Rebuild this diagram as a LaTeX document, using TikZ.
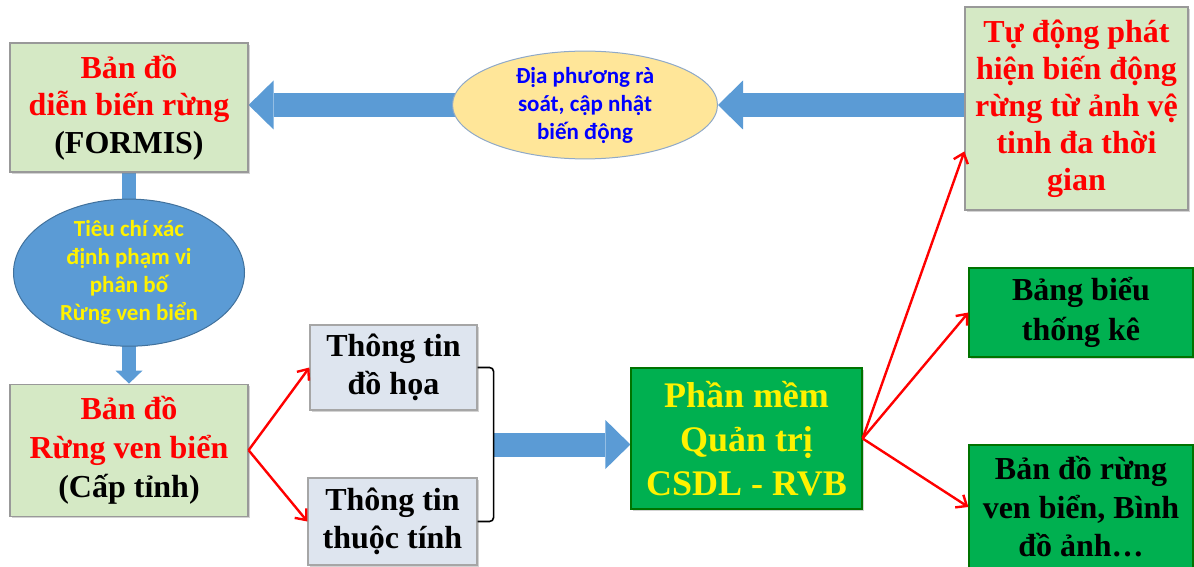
\documentclass[tikz,border=0pt]{standalone}
\usepackage{fontspec}
\setmainfont{Liberation Serif}
\newfontfamily\calibri{Carlito}
\usepackage{xcolor}
\usetikzlibrary{shapes.geometric, arrows.meta, positioning, backgrounds, calc, shadows}

\definecolor{palegreen}{RGB}{213,233,197}
\definecolor{softgreen}{RGB}{0,176,80}
\definecolor{greyblue}{RGB}{222,229,239}
\definecolor{fatblue}{RGB}{91,155,213}
\definecolor{ovaledge}{RGB}{65,113,156}
\definecolor{paleyellow}{RGB}{255,230,153}
\definecolor{yellowedge}{RGB}{143,169,200}

\tikzstyle{mapbox}  = [rectangle, draw=black!40, line width=1.2pt, fill=palegreen,
                       align=center, text=red, inner sep=0pt,
                       font=\bfseries\fontsize{32}{37.5}\selectfont,
                       drop shadow={shadow xshift=2pt, shadow yshift=-2pt, opacity=0.35}]
\tikzstyle{infobox} = [rectangle, draw=black!35, line width=1.2pt, fill=greyblue,
                       align=center, inner sep=0pt,
                       font=\bfseries\fontsize{32}{38}\selectfont,
                       drop shadow={shadow xshift=2pt, shadow yshift=-2pt, opacity=0.35}]
\tikzstyle{outbox}  = [rectangle, draw=green!45!black, line width=1.2pt, fill=softgreen,
                       align=center, inner sep=0pt,
                       font=\bfseries\fontsize{32}{38.5}\selectfont,
                       drop shadow={shadow xshift=2pt, shadow yshift=-2pt, opacity=0.35}]
\tikzstyle{oval}    = [ellipse, line width=1pt, align=center, inner sep=0pt,
                       font=\calibri\bfseries\fontsize{23}{28}\selectfont]
\tikzstyle{fatarrow} = [draw=fatblue, line width=24pt,
                        -{Triangle[length=25pt, width=49pt, line width=0pt]}]
\tikzstyle{redarrow} = [draw=red, line width=2.4pt, -{Straight Barb[length=9pt, width=15pt]}]
\tikzstyle{bracket}  = [draw=black, line width=1.6pt, rounded corners=4pt]

\begin{document}
\begin{tikzpicture}[x=1pt, y=-1pt]
    \useasboundingbox (0,0) rectangle (1194,567);

    % left column
    \node (formis) [mapbox, minimum width=238pt, minimum height=129pt] at (129,107.5)
          {Bản đồ\\diễn biến rừng\\\textcolor{black}{(FORMIS)}};
    \node (tieuchi) [oval, fill=fatblue, draw=ovaledge, text=yellow,
                     minimum width=231pt, minimum height=142pt, below=26pt of formis]
          {Tiêu chí xác\\định phạm vi\\phân bố\\Rừng ven biển};
    \node (rung) [mapbox, minimum width=238pt, minimum height=132pt, below=211pt of formis,
                  font=\bfseries\fontsize{32}{39}\selectfont]
          {Bản đồ\\Rừng ven biển\\\textcolor{black}{(Cấp tỉnh)}};

    % top row
    \node (dpu) [oval, fill=paleyellow, draw=yellowedge, text=blue,
                 minimum width=265pt, minimum height=92pt] at (585,105)
          {Địa phương rà\\soát, cập nhật\\biến động};
    \node (tudong) [mapbox, minimum width=223pt, minimum height=203pt,
                    font=\bfseries\fontsize{32}{37}\selectfont] at (1076.5,108.5)
          {Tự động phát\\hiện biến động\\rừng từ ảnh vệ\\tinh đa thời\\gian};

    % attribute boxes
    \node (dohoa) [infobox, minimum width=167pt, minimum height=85pt] at (393.5,367.5)
          {Thông tin\\đồ họa};
    \node (thuoc) [infobox, minimum width=169pt, minimum height=87pt] at (392.5,521.5)
          {Thông tin\\thuộc tính};

    % software and outputs
    \node (phanmem) [outbox, text=yellow, minimum width=231pt, minimum height=141pt,
                     font=\bfseries\fontsize{36}{44}\selectfont] at (746.5,438.5)
          {Phần mềm\\Quản trị\\CSDL - RVB};
    \node (bangbieu) [outbox, minimum width=224pt, minimum height=89pt, font=\bfseries\fontsize{32}{40}\selectfont] at (1081,312.5)
          {Bảng biểu\\thống kê};
    \node (bando) [outbox, minimum width=224pt, minimum height=124pt] at (1081,507)
          {Bản đồ rừng\\ven biển, Bình\\đồ ảnh…};

    \draw [bracket] (dohoa.east) -- ++(16,0) |- (thuoc.east);
    \coordinate (brmid) at ($(dohoa.east)!0.5!(thuoc.east) + (16,0)$);
    \coordinate (tdin) at ($(tudong.south west)!0.29!(tudong.north west)$);

    \begin{scope}[on background layer]
        \draw [fatarrow] (dpu.center) -- (dpu.west -| formis.east);
        \draw [fatarrow] (dpu.east -| tudong.center) -- (dpu.east);
        \draw [fatarrow, line width=14pt, -{Triangle[length=13pt, width=27pt, line width=0pt]}]
              (formis.center) -- (rung.north);
        \draw [fatarrow] (brmid) -- (brmid -| phanmem.west);
    \end{scope}

    \draw [redarrow] (rung.east) -- (dohoa.west);
    \draw [redarrow] (rung.east) -- (thuoc.west);
    \draw [redarrow] (phanmem.east) -- (tdin);
    \draw [redarrow] (phanmem.east) -- (bangbieu.west);
    \draw [redarrow] (phanmem.east) -- (bando.west);
\end{tikzpicture}
\end{document}
